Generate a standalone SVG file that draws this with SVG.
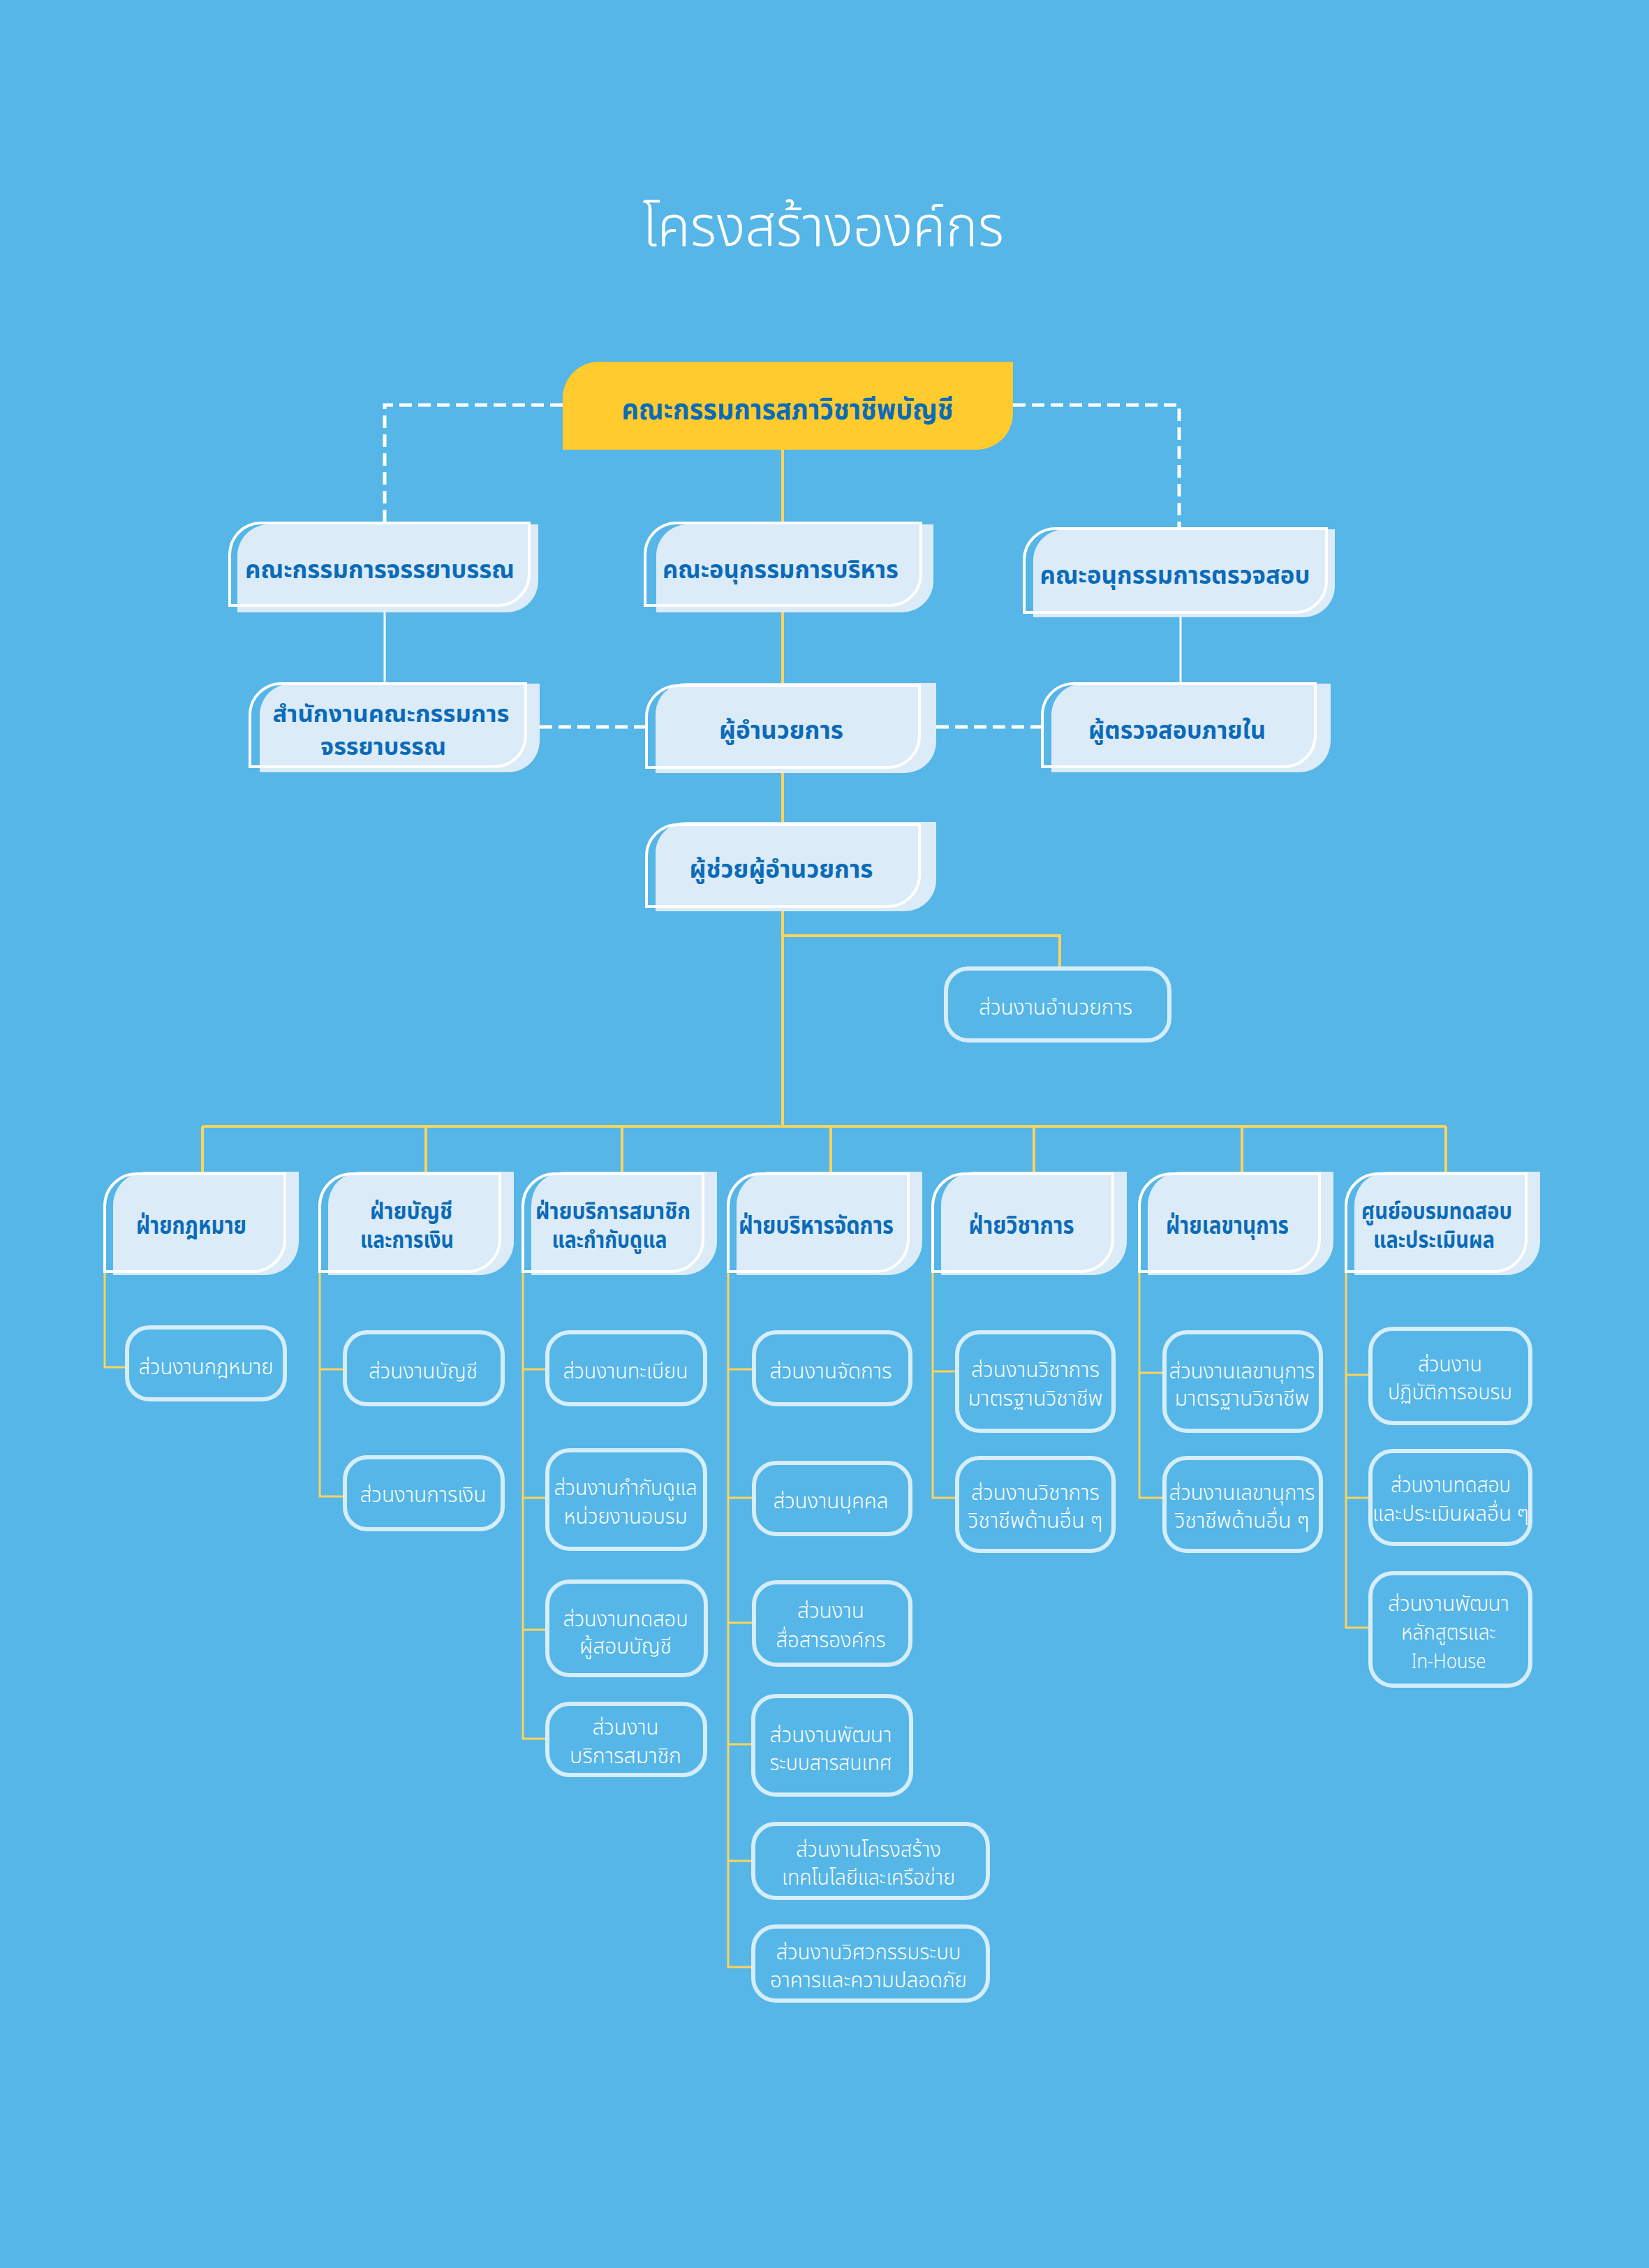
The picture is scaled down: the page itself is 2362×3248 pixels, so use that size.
<svg xmlns="http://www.w3.org/2000/svg" width="2362" height="3248" viewBox="0 0 2362 3248">
<style>
.bg{fill:#55B6E7}
.nf{fill:#DCEBF8}
.nw{fill:none;stroke:#FFFFFF;stroke-width:4}
.top{fill:#FFCB2E}
.cb{fill:none;stroke:#D6EDFB;stroke-width:6}
.yl{fill:none;stroke:#FFD35B;stroke-width:4}
.yt{fill:none;stroke:#FFD35B;stroke-width:3}
.ws{fill:none;stroke:#FFFFFF;stroke-width:3}
.wd{fill:none;stroke:#FFFFFF;stroke-width:5;stroke-dasharray:18 9}
text{font-family:"Noto Sans Thai","Noto Sans","Liberation Sans",sans-serif;text-anchor:middle}
.title{fill:#FFFFFF;font-size:80px;font-weight:300}
.tb{fill:#0B6BB8;font-size:36px;font-weight:700}
.tb2{fill:#0B6BB8;font-size:33px;font-weight:700}
.tt{fill:#0B6BB8;font-size:40px;font-weight:700}
.tc{fill:#FFFFFF;font-size:30px;font-weight:300}
</style>
<rect class="bg" x="0" y="0" width="2362" height="3248"/>
<text class="title" x="1179" y="352" textLength="518" lengthAdjust="spacingAndGlyphs">โครงสร้างองค์กร</text>

<g id="connectors">
  <path class="wd" d="M806,580 H551 V749"/>
  <path class="wd" d="M1451,580 H1689 V757"/>
  <path class="wd" d="M773,1041 H924"/>
  <path class="wd" d="M1341,1041 H1493"/>
  <path class="ws" d="M551,867 V979"/>
  <path class="ws" d="M1691,884 V979"/>
  <path class="yl" d="M1121,644 V749"/>
  <path class="yl" d="M1121,877 V978"/>
  <path class="yl" d="M1121,1107 V1177"/>
  <path class="yl" d="M1121,1305 V1613"/>
  <path class="yl" d="M1121,1340 H1518 V1384"/>
  <path class="yl" d="M290,1613 H2071"/>
  <path class="yl" d="M290,1613 V1679 M610,1613 V1679 M891,1613 V1679 M1190,1613 V1679 M1481,1613 V1679 M1779,1613 V1679 M2071,1613 V1679"/>
  <path class="yt" d="M150,1822 V1958 H179"/>
  <path class="yt" d="M458,1822 V2143 H491 M458,1961 H491"/>
  <path class="yt" d="M749,1822 V2490 H781 M749,1961 H781 M749,2145 H781 M749,2334 H781"/>
  <path class="yt" d="M1043,1822 V2817 H1076 M1043,1961 H1077 M1043,2145 H1077 M1043,2324 H1077 M1043,2498 H1076 M1043,2665 H1076"/>
  <path class="yt" d="M1336,1822 V2145 H1368 M1336,1964 H1368"/>
  <path class="yt" d="M1632,1822 V2145 H1665 M1632,1966 H1665"/>
  <path class="yt" d="M1928,1822 V2331 H1960 M1928,1969 H1960 M1928,2145 H1960"/>
</g>

<g id="n-council">
  <path class="top" d="M806,644 V570 A52,52 0 0 1 858,518 H1451 V592 A52,52 0 0 1 1399,644 Z"/>
  <text class="tt" x="1128" y="600" textLength="475" lengthAdjust="spacingAndGlyphs">คณะกรรมการสภาวิชาชีพบัญชี</text>
</g>

<g id="n-ethics">
  <path class="nf" d="M340,877 V796 A45,45 0 0 1 385,751 H771 V832 A45,45 0 0 1 726,877 Z"/>
  <path class="nw" d="M329,867 V794 A45,45 0 0 1 374,749 H758 V822 A45,45 0 0 1 713,867 Z"/>
  <text class="tb" x="544" y="828" textLength="386" lengthAdjust="spacingAndGlyphs">คณะกรรมการจรรยาบรรณ</text>
</g>
<g id="n-exec">
  <path class="nf" d="M940,877 V796 A45,45 0 0 1 985,751 H1337 V832 A45,45 0 0 1 1292,877 Z"/>
  <path class="nw" d="M924,867 V794 A45,45 0 0 1 969,749 H1319 V822 A45,45 0 0 1 1274,867 Z"/>
  <text class="tb" x="1118" y="828" textLength="338" lengthAdjust="spacingAndGlyphs">คณะอนุกรรมการบริหาร</text>
</g>
<g id="n-audit">
  <path class="nf" d="M1480,884 V803 A45,45 0 0 1 1525,758 H1912 V839 A45,45 0 0 1 1867,884 Z"/>
  <path class="nw" d="M1467,877 V802 A45,45 0 0 1 1512,757 H1900 V832 A45,45 0 0 1 1855,877 Z"/>
  <text class="tb" x="1683" y="836" textLength="387" lengthAdjust="spacingAndGlyphs">คณะอนุกรรมการตรวจสอบ</text>
</g>

<g id="n-ethics-office">
  <path class="nf" d="M372,1106 V1024 A45,45 0 0 1 417,979 H773 V1061 A45,45 0 0 1 728,1106 Z"/>
  <path class="nw" d="M358,1098 V1024 A45,45 0 0 1 403,979 H753 V1053 A45,45 0 0 1 708,1098 Z"/>
  <text class="tb2" x="560" y="1034" textLength="339" lengthAdjust="spacingAndGlyphs">สำนักงานคณะกรรมการ</text>
  <text class="tb2" x="549" y="1081" textLength="180" lengthAdjust="spacingAndGlyphs">จรรยาบรรณ</text>
</g>
<g id="n-director">
  <path class="nf" d="M939,1107 V1023 A45,45 0 0 1 984,978 H1341 V1062 A45,45 0 0 1 1296,1107 Z"/>
  <path class="nw" d="M926,1099 V1027 A45,45 0 0 1 971,982 H1317 V1054 A45,45 0 0 1 1272,1099 Z"/>
  <text class="tb" x="1119" y="1058" textLength="178" lengthAdjust="spacingAndGlyphs">ผู้อำนวยการ</text>
</g>
<g id="n-internal-audit">
  <path class="nf" d="M1506,1106 V1024 A45,45 0 0 1 1551,979 H1906 V1061 A45,45 0 0 1 1861,1106 Z"/>
  <path class="nw" d="M1493,1098 V1024 A45,45 0 0 1 1538,979 H1884 V1053 A45,45 0 0 1 1839,1098 Z"/>
  <text class="tb" x="1686" y="1058" textLength="254" lengthAdjust="spacingAndGlyphs">ผู้ตรวจสอบภายใน</text>
</g>
<g id="n-asst-director">
  <path class="nf" d="M939,1305 V1222 A45,45 0 0 1 984,1177 H1341 V1260 A45,45 0 0 1 1296,1305 Z"/>
  <path class="nw" d="M926,1298 V1226 A45,45 0 0 1 971,1181 H1317 V1253 A45,45 0 0 1 1272,1298 Z"/>
  <text class="tb" x="1119" y="1257" textLength="263" lengthAdjust="spacingAndGlyphs">ผู้ช่วยผู้อำนวยการ</text>
</g>
<g id="n-director-unit">
  <rect class="cb" x="1355" y="1387" width="320" height="103" rx="32"/>
  <text class="tc" x="1512" y="1453" textLength="220" lengthAdjust="spacingAndGlyphs">ส่วนงานอำนวยการ</text>
</g>

<g id="d-legal">
  <path class="nf" d="M162,1826 V1726 A48,48 0 0 1 210,1678 H428 V1778 A48,48 0 0 1 380,1826 Z"/>
  <path class="nw" d="M150,1821 V1727 A46,46 0 0 1 196,1681 H408 V1775 A46,46 0 0 1 362,1821 Z"/>
  <text class="tb" x="274" y="1767" textLength="158" lengthAdjust="spacingAndGlyphs">ฝ่ายกฎหมาย</text>
</g>
<g id="d-finance">
  <path class="nf" d="M470,1826 V1726 A48,48 0 0 1 518,1678 H736 V1778 A48,48 0 0 1 688,1826 Z"/>
  <path class="nw" d="M458,1821 V1727 A46,46 0 0 1 504,1681 H716 V1775 A46,46 0 0 1 670,1821 Z"/>
  <text class="tb2" x="589" y="1746" textLength="118" lengthAdjust="spacingAndGlyphs">ฝ่ายบัญชี</text>
  <text class="tb2" x="583" y="1787" textLength="134" lengthAdjust="spacingAndGlyphs">และการเงิน</text>
</g>
<g id="d-member">
  <path class="nf" d="M761,1826 V1726 A48,48 0 0 1 809,1678 H1027 V1778 A48,48 0 0 1 979,1826 Z"/>
  <path class="nw" d="M749,1821 V1727 A46,46 0 0 1 795,1681 H1007 V1775 A46,46 0 0 1 961,1821 Z"/>
  <text class="tb2" x="878" y="1746" textLength="222" lengthAdjust="spacingAndGlyphs">ฝ่ายบริการสมาชิก</text>
  <text class="tb2" x="873" y="1787" textLength="165" lengthAdjust="spacingAndGlyphs">และกำกับดูแล</text>
</g>
<g id="d-admin">
  <path class="nf" d="M1055,1826 V1726 A48,48 0 0 1 1103,1678 H1321 V1778 A48,48 0 0 1 1273,1826 Z"/>
  <path class="nw" d="M1043,1821 V1727 A46,46 0 0 1 1089,1681 H1301 V1775 A46,46 0 0 1 1255,1821 Z"/>
  <text class="tb" x="1169" y="1767" textLength="222" lengthAdjust="spacingAndGlyphs">ฝ่ายบริหารจัดการ</text>
</g>
<g id="d-academic">
  <path class="nf" d="M1348,1826 V1726 A48,48 0 0 1 1396,1678 H1614 V1778 A48,48 0 0 1 1566,1826 Z"/>
  <path class="nw" d="M1336,1821 V1727 A46,46 0 0 1 1382,1681 H1594 V1775 A46,46 0 0 1 1548,1821 Z"/>
  <text class="tb" x="1463" y="1767" textLength="151" lengthAdjust="spacingAndGlyphs">ฝ่ายวิชาการ</text>
</g>
<g id="d-secretary">
  <path class="nf" d="M1644,1826 V1726 A48,48 0 0 1 1692,1678 H1910 V1778 A48,48 0 0 1 1862,1826 Z"/>
  <path class="nw" d="M1632,1821 V1727 A46,46 0 0 1 1678,1681 H1890 V1775 A46,46 0 0 1 1844,1821 Z"/>
  <text class="tb" x="1758" y="1767" textLength="176" lengthAdjust="spacingAndGlyphs">ฝ่ายเลขานุการ</text>
</g>
<g id="d-training">
  <path class="nf" d="M1940,1826 V1726 A48,48 0 0 1 1988,1678 H2206 V1778 A48,48 0 0 1 2158,1826 Z"/>
  <path class="nw" d="M1928,1821 V1727 A46,46 0 0 1 1974,1681 H2186 V1775 A46,46 0 0 1 2140,1821 Z"/>
  <text class="tb2" x="2058" y="1746" textLength="216" lengthAdjust="spacingAndGlyphs">ศูนย์อบรมทดสอบ</text>
  <text class="tb2" x="2054" y="1787" textLength="174" lengthAdjust="spacingAndGlyphs">และประเมินผล</text>
</g>

<g id="u-legal">
  <rect class="cb" x="182" y="1901" width="226" height="103" rx="32"/>
  <text class="tc" x="295" y="1968" textLength="193" lengthAdjust="spacingAndGlyphs">ส่วนงานกฎหมาย</text>
</g>
<g id="u-accounting">
  <rect class="cb" x="494" y="1908" width="226" height="103" rx="32"/>
  <text class="tc" x="606" y="1974" textLength="156" lengthAdjust="spacingAndGlyphs">ส่วนงานบัญชี</text>
</g>
<g id="u-finance">
  <rect class="cb" x="494" y="2087" width="226" height="103" rx="32"/>
  <text class="tc" x="606" y="2151" textLength="181" lengthAdjust="spacingAndGlyphs">ส่วนงานการเงิน</text>
</g>
<g id="u-registration">
  <rect class="cb" x="784" y="1908" width="226" height="103" rx="32"/>
  <text class="tc" x="896" y="1974" textLength="179" lengthAdjust="spacingAndGlyphs">ส่วนงานทะเบียน</text>
</g>
<g id="u-supervision">
  <rect class="cb" x="784" y="2077" width="226" height="141" rx="32"/>
  <text class="tc" x="896" y="2141" textLength="205" lengthAdjust="spacingAndGlyphs">ส่วนงานกำกับดูแล</text>
  <text class="tc" x="896" y="2182" textLength="177" lengthAdjust="spacingAndGlyphs">หน่วยงานอบรม</text>
</g>
<g id="u-auditor-exam">
  <rect class="cb" x="784" y="2265" width="227" height="134" rx="32"/>
  <text class="tc" x="896" y="2329" textLength="179" lengthAdjust="spacingAndGlyphs">ส่วนงานทดสอบ</text>
  <text class="tc" x="896" y="2368" textLength="132" lengthAdjust="spacingAndGlyphs">ผู้สอบบัญชี</text>
</g>
<g id="u-member-service">
  <rect class="cb" x="784" y="2440" width="226" height="102" rx="32"/>
  <text class="tc" x="896" y="2484" textLength="95" lengthAdjust="spacingAndGlyphs">ส่วนงาน</text>
  <text class="tc" x="896" y="2525" textLength="160" lengthAdjust="spacingAndGlyphs">บริการสมาชิก</text>
</g>
<g id="u-management">
  <rect class="cb" x="1080" y="1908" width="224" height="103" rx="32"/>
  <text class="tc" x="1190" y="1974" textLength="175" lengthAdjust="spacingAndGlyphs">ส่วนงานจัดการ</text>
</g>
<g id="u-personnel">
  <rect class="cb" x="1080" y="2095" width="224" height="102" rx="32"/>
  <text class="tc" x="1190" y="2160" textLength="165" lengthAdjust="spacingAndGlyphs">ส่วนงานบุคคล</text>
</g>
<g id="u-communication">
  <rect class="cb" x="1080" y="2266" width="224" height="118" rx="32"/>
  <text class="tc" x="1190" y="2317" textLength="96" lengthAdjust="spacingAndGlyphs">ส่วนงาน</text>
  <text class="tc" x="1190" y="2359" textLength="157" lengthAdjust="spacingAndGlyphs">สื่อสารองค์กร</text>
</g>
<g id="u-is-dev">
  <rect class="cb" x="1079" y="2429" width="226" height="141" rx="32"/>
  <text class="tc" x="1190" y="2495" textLength="175" lengthAdjust="spacingAndGlyphs">ส่วนงานพัฒนา</text>
  <text class="tc" x="1190" y="2535" textLength="175" lengthAdjust="spacingAndGlyphs">ระบบสารสนเทศ</text>
</g>
<g id="u-infrastructure">
  <rect class="cb" x="1079" y="2612" width="336" height="106" rx="32"/>
  <text class="tc" x="1244" y="2659" textLength="208" lengthAdjust="spacingAndGlyphs">ส่วนงานโครงสร้าง</text>
  <text class="tc" x="1244" y="2699" textLength="248" lengthAdjust="spacingAndGlyphs">เทคโนโลยีและเครือข่าย</text>
</g>
<g id="u-engineering">
  <rect class="cb" x="1079" y="2759" width="336" height="106" rx="32"/>
  <text class="tc" x="1244" y="2806" textLength="265" lengthAdjust="spacingAndGlyphs">ส่วนงานวิศวกรรมระบบ</text>
  <text class="tc" x="1244" y="2846" textLength="282" lengthAdjust="spacingAndGlyphs">อาคารและความปลอดภัย</text>
</g>
<g id="u-academic-std">
  <rect class="cb" x="1371" y="1908" width="224" height="141" rx="32"/>
  <text class="tc" x="1483" y="1972" textLength="184" lengthAdjust="spacingAndGlyphs">ส่วนงานวิชาการ</text>
  <text class="tc" x="1483" y="2013" textLength="193" lengthAdjust="spacingAndGlyphs">มาตรฐานวิชาชีพ</text>
</g>
<g id="u-academic-other">
  <rect class="cb" x="1371" y="2088" width="224" height="133" rx="32"/>
  <text class="tc" x="1483" y="2148" textLength="184" lengthAdjust="spacingAndGlyphs">ส่วนงานวิชาการ</text>
  <text class="tc" x="1483" y="2188" textLength="193" lengthAdjust="spacingAndGlyphs">วิชาชีพด้านอื่น ๆ</text>
</g>
<g id="u-secretary-std">
  <rect class="cb" x="1668" y="1908" width="224" height="141" rx="32"/>
  <text class="tc" x="1779" y="1974" textLength="209" lengthAdjust="spacingAndGlyphs">ส่วนงานเลขานุการ</text>
  <text class="tc" x="1779" y="2013" textLength="193" lengthAdjust="spacingAndGlyphs">มาตรฐานวิชาชีพ</text>
</g>
<g id="u-secretary-other">
  <rect class="cb" x="1668" y="2088" width="224" height="133" rx="32"/>
  <text class="tc" x="1779" y="2148" textLength="209" lengthAdjust="spacingAndGlyphs">ส่วนงานเลขานุการ</text>
  <text class="tc" x="1779" y="2188" textLength="193" lengthAdjust="spacingAndGlyphs">วิชาชีพด้านอื่น ๆ</text>
</g>
<g id="u-training-ops">
  <rect class="cb" x="1963" y="1903" width="229" height="135" rx="32"/>
  <text class="tc" x="2077" y="1964" textLength="92" lengthAdjust="spacingAndGlyphs">ส่วนงาน</text>
  <text class="tc" x="2077" y="2004" textLength="178" lengthAdjust="spacingAndGlyphs">ปฏิบัติการอบรม</text>
</g>
<g id="u-testing">
  <rect class="cb" x="1963" y="2078" width="229" height="133" rx="32"/>
  <text class="tc" x="2078" y="2137" textLength="172" lengthAdjust="spacingAndGlyphs">ส่วนงานทดสอบ</text>
  <text class="tc" x="2078" y="2178" textLength="224" lengthAdjust="spacingAndGlyphs">และประเมินผลอื่น ๆ</text>
</g>
<g id="u-curriculum">
  <rect class="cb" x="1963" y="2253" width="229" height="161" rx="32"/>
  <text class="tc" x="2075" y="2307" textLength="174" lengthAdjust="spacingAndGlyphs">ส่วนงานพัฒนา</text>
  <text class="tc" x="2075" y="2348" textLength="136" lengthAdjust="spacingAndGlyphs">หลักสูตรและ</text>
  <text class="tc" x="2075" y="2389" textLength="107" lengthAdjust="spacingAndGlyphs">In-House</text>
</g>
</svg>
